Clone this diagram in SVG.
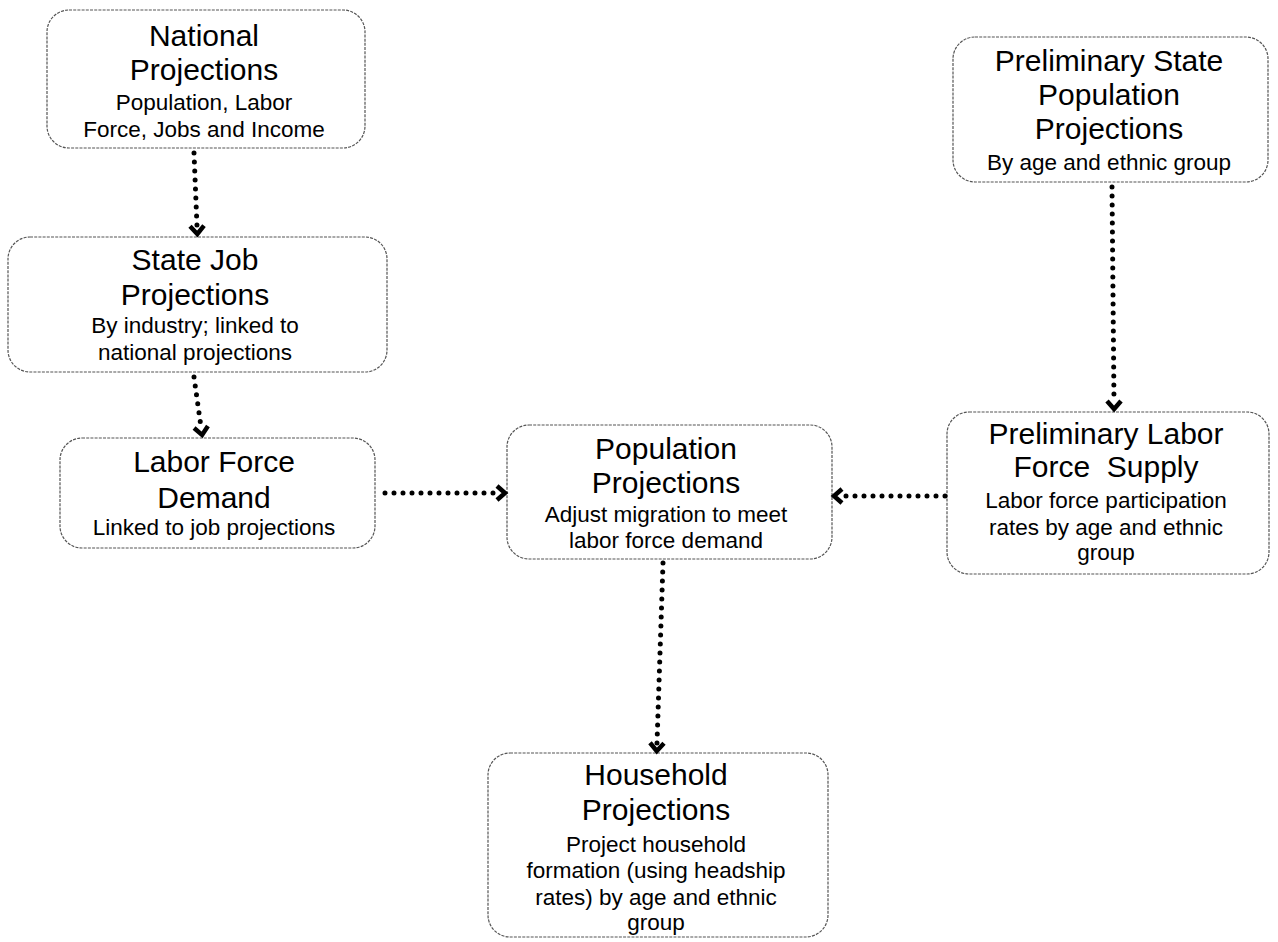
<svg xmlns="http://www.w3.org/2000/svg" width="1278" height="942" viewBox="0 0 1278 942">
<style>
.box{fill:#fff;stroke:#555;stroke-width:1.2;stroke-dasharray:3 1.2}
.t{font-family:"Liberation Sans",Arial,Helvetica,sans-serif;font-size:30px;text-anchor:middle;fill:#000;white-space:pre}
.s{font-family:"Liberation Sans",Arial,Helvetica,sans-serif;font-size:22.5px;text-anchor:middle;fill:#000;white-space:pre}
.c{fill:none;stroke:#000;stroke-width:5;stroke-linecap:round;stroke-dasharray:0 9}
</style>
<defs>
<marker id="chev" markerUnits="userSpaceOnUse" markerWidth="24" markerHeight="24" viewBox="-4 -12 24 24" refX="0" refY="0" orient="auto" overflow="visible">
<path d="M0,-7 L8,0 L0,7" fill="none" stroke="#000" stroke-width="4.5" stroke-linejoin="miter"/>
</marker>
</defs>
<rect width="1278" height="942" fill="#fff"/>
<g id="national">
<rect class="box" x="47" y="10" width="318" height="138" rx="22"/>
<text class="t" x="204" y="46">National</text>
<text class="t" x="204" y="80">Projections</text>
<text class="s" x="204" y="110">Population, Labor</text>
<text class="s" x="204" y="137">Force, Jobs and Income</text>
</g>
<g id="statejob">
<rect class="box" x="8" y="237" width="379" height="135" rx="22"/>
<text class="t" x="195" y="270">State Job</text>
<text class="t" x="195" y="305">Projections</text>
<text class="s" x="195" y="333">By industry; linked to</text>
<text class="s" x="195" y="360">national projections</text>
</g>
<g id="laborforcedemand">
<rect class="box" x="60" y="438" width="315" height="110" rx="22"/>
<text class="t" x="214" y="472">Labor Force</text>
<text class="t" x="214" y="508">Demand</text>
<text class="s" x="214" y="535">Linked to job projections</text>
</g>
<g id="population">
<rect class="box" x="507" y="425" width="325" height="134" rx="22"/>
<text class="t" x="666" y="459">Population</text>
<text class="t" x="666" y="493">Projections</text>
<text class="s" x="666" y="522">Adjust migration to meet</text>
<text class="s" x="666" y="548">labor force demand</text>
</g>
<g id="laborsupply">
<rect class="box" x="947" y="412" width="322" height="162" rx="22"/>
<text class="t" x="1106" y="444">Preliminary Labor</text>
<text class="t" x="1106" y="477">Force  Supply</text>
<text class="s" x="1106" y="508">Labor force participation</text>
<text class="s" x="1106" y="535">rates by age and ethnic</text>
<text class="s" x="1106" y="560">group</text>
</g>
<g id="statepopulation">
<rect class="box" x="953" y="37" width="315" height="145" rx="22"/>
<text class="t" x="1109" y="71">Preliminary State</text>
<text class="t" x="1109" y="105">Population</text>
<text class="t" x="1109" y="139">Projections</text>
<text class="s" x="1109" y="170">By age and ethnic group</text>
</g>
<g id="household">
<rect class="box" x="488" y="753" width="340" height="184" rx="22"/>
<text class="t" x="656" y="785">Household</text>
<text class="t" x="656" y="820">Projections</text>
<text class="s" x="656" y="852">Project household</text>
<text class="s" x="656" y="878">formation (using headship</text>
<text class="s" x="656" y="905">rates) by age and ethnic</text>
<text class="s" x="656" y="930">group</text>
</g>
<g id="connectors">
<path class="c" d="M194,153 L197,226" marker-end="url(#chev)"/>
<path class="c" d="M194,377 L201,427" marker-end="url(#chev)"/>
<path class="c" d="M385,493 L497,493" marker-end="url(#chev)"/>
<path class="c" d="M945,496 L842,496" marker-end="url(#chev)"/>
<path class="c" d="M663,563 L657,743" marker-end="url(#chev)"/>
<path class="c" d="M1112,187 L1114,401" marker-end="url(#chev)"/>
</g>
</svg>
